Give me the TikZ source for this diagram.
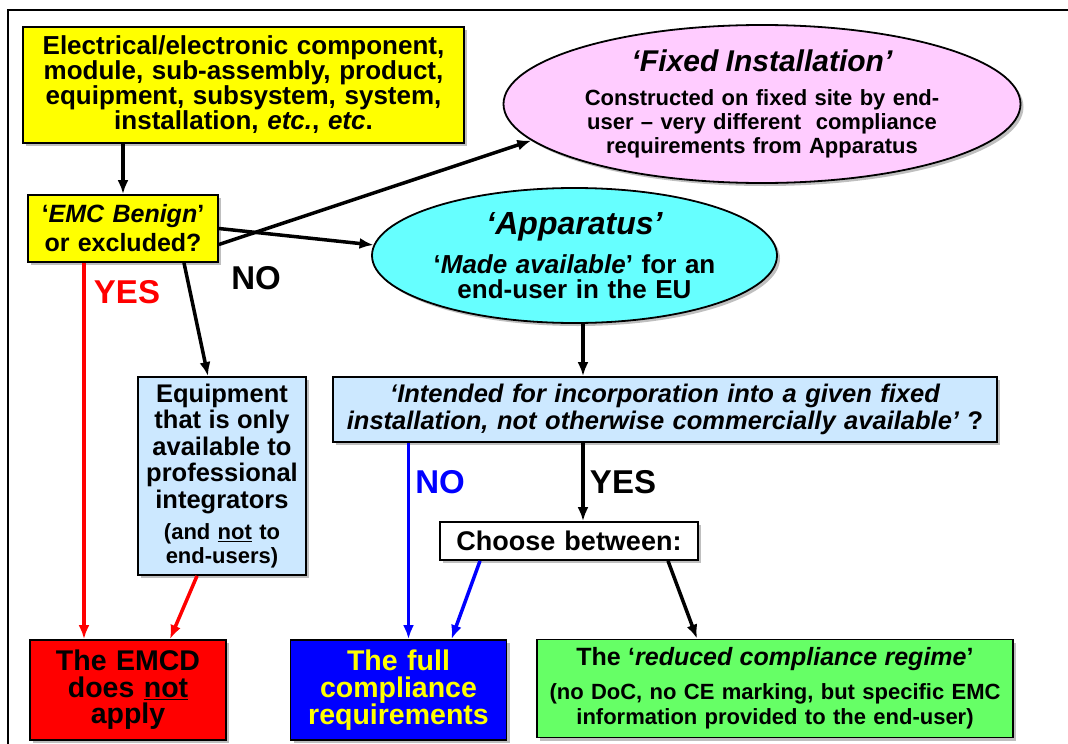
\documentclass[tikz,border=0pt]{standalone}
\usepackage{fontspec}
\setmainfont{Liberation Sans}
\usetikzlibrary{shapes.geometric, arrows.meta, shadows}

\definecolor{startyellow}{HTML}{FFFF00}
\definecolor{fixedpink}{HTML}{FFCCFF}
\definecolor{apparatuscyan}{HTML}{66FFFF}
\definecolor{questionblue}{HTML}{CCE8FF}
\definecolor{emcdred}{HTML}{FF0000}
\definecolor{fullblue}{HTML}{0000FF}
\definecolor{reducedgreen}{HTML}{66FF66}

\begin{document}
\begin{tikzpicture}[x=1pt, y=-1pt,
      box/.style={rectangle, draw, line width=1.8pt, align=center, inner sep=0pt,
        drop shadow={shadow xshift=3pt, shadow yshift=-3pt, opacity=0.5}},
      oval/.style={ellipse, draw, line width=1.8pt, align=center, inner sep=0pt,
        drop shadow={shadow xshift=3pt, shadow yshift=-3pt, opacity=0.5}},
      arrow/.style={line width=3.5pt, -{Latex[length=14pt,width=11pt]}},
      answer/.style={font=\bfseries\fontsize{33}{33}\selectfont}
    ]
    \useasboundingbox (0,0) rectangle (1068,744);
    \draw [line width=1.8pt] (8,744) -- (8,10) -- (1068,10);

    \node [box, fill=startyellow, minimum width=441pt, minimum height=116pt, text width=436pt,
      font=\bfseries\fontsize{26}{25}\selectfont] (source) at (243.5,85)
      {Electrical/electronic component,\\ module, sub-assembly, product,\\ equipment, subsystem, system,\\ installation, \textit{etc.}, \textit{etc}.};
    \node [oval, fill=fixedpink, minimum width=517pt, minimum height=158pt, text width=364pt,
      font=\bfseries\fontsize{22}{24}\selectfont] (fixed) at (762,104)
      {{\itshape\fontsize{30}{34}\selectfont ‘Fixed Installation’\par}
       \vspace{10pt}Constructed on fixed site by end-\\ user – very different \ compliance\\ requirements from Apparatus};
    \node [box, fill=startyellow, minimum width=190pt, minimum height=67pt, text width=186pt,
      font=\bfseries\fontsize{25}{29}\selectfont] (benign) at (123,228.5)
      {‘\textit{EMC Benign}’\\ or excluded?};
    \node [oval, fill=apparatuscyan, minimum width=405pt, minimum height=135pt, text width=284pt,
      font=\bfseries\fontsize{26}{25}\selectfont] (apparatus) at (574.5,255.5)
      {{\itshape\fontsize{32}{40}\selectfont ‘Apparatus’\par}
       \vspace{13pt}‘\textit{Made available}’ for an\\ end-user in the EU};
    \node [box, fill=questionblue, minimum width=168pt, minimum height=198pt, text width=164pt,
      font=\bfseries\fontsize{22}{24}\selectfont] (equip) at (222,476)
      {{\fontsize{25.5}{26.5}\selectfont Equipment\\ that is only\\ available to\\ professional\\ integrators\par}
       \vspace{7pt}(and \underline{not} to\\ end-users)};
    \node [box, fill=questionblue, minimum width=664pt, minimum height=65pt, text width=660pt,
      font=\bfseries\itshape\fontsize{25.5}{27}\selectfont] (intended) at (665,409.5)
      {‘Intended for incorporation into a given fixed\\ installation, not otherwise commercially available’\upshape\ ?};
    \node [box, fill=white, minimum width=258pt, minimum height=38pt, text width=254pt,
      font=\bfseries\fontsize{27}{27}\selectfont] (choose) at (569,541) {Choose between:};
    \node [box, fill=emcdred, minimum width=196pt, minimum height=100pt, text width=192pt,
      font=\bfseries\fontsize{28.5}{26.5}\selectfont] (emcd) at (128,690)
      {The EMCD\\ does \underline{not}\\ apply};
    \node [box, fill=fullblue, text=startyellow, minimum width=216pt, minimum height=100pt, text width=212pt,
      font=\bfseries\fontsize{28.5}{27}\selectfont] (full) at (398.5,690)
      {The full\\ compliance\\ requirements};
    \node [box, fill=reducedgreen, minimum width=476pt, minimum height=98pt, text width=470pt,
      font=\bfseries\fontsize{22}{25}\selectfont] (reduced) at (775,688.5)
      {{\fontsize{25}{33}\selectfont The ‘\textit{reduced compliance regime}’\par}
       \vspace{9pt}(no DoC, no CE marking, but specific EMC\\ information provided to the end-user)};

    \node [answer, text=red] (yesleft) at (127,292) {YES};
    \node [answer] (noleft) at (256,278) {NO};
    \node [answer, text=blue] (nomid) at (440,482) {NO};
    \node [answer] (yesmid) at (623,482) {YES};

    \draw [arrow] (source.south -| benign.north) -- (benign.north);
    \draw [arrow] ([yshift=-16pt]benign.east) -- (fixed.189);
    \draw [arrow] (benign.east) -- (apparatus.177);
    \draw [arrow, red] ([xshift=-39pt]benign.south) -- ([xshift=-39pt]benign.south |- emcd.north);
    \draw [arrow] ([xshift=61pt]benign.south) -- ([xshift=-14pt]equip.north);
    \draw [arrow, red] ([xshift=-25pt]equip.south) -- ([xshift=42pt]emcd.north);
    \draw [arrow] ([xshift=8.5pt]apparatus.south) -- ([xshift=8.5pt]apparatus.south |- intended.north);
    \draw [arrow] ([xshift=14pt]choose.north |- intended.south) -- ([xshift=14pt]choose.north);
    \draw [arrow, blue] ([xshift=10pt]full.north |- intended.south) -- ([xshift=10pt]full.north);
    \draw [arrow, blue] ([xshift=-89pt]choose.south) -- ([xshift=53pt]full.north);
    \draw [arrow] ([xshift=99pt]choose.south) -- ([xshift=-78pt]reduced.north);
  \end{tikzpicture}
\end{document}
